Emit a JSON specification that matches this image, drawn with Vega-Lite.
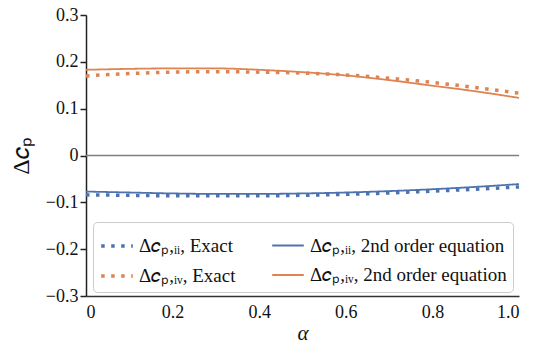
{
  "$schema": "https://vega.github.io/schema/vega-lite/v6.json",
  "autosize": {"type": "none"},
  "width": 433,
  "height": 281,
  "padding": {"left": 86, "top": 15, "right": 27, "bottom": 52},
  "background": "white",
  "config": {
    "view": {"stroke": null},
    "font": "'Liberation Serif', 'Times New Roman', serif",
    "axis": {"labelFont": "'Liberation Serif', 'Times New Roman', serif", "titleFont": "'Liberation Serif', 'Times New Roman', serif", "grid": false},
    "legend": {"labelFont": "'Liberation Serif', 'Times New Roman', serif"}
  },
  "datasets": {
    "curves": [
      {"alpha": 0.0, "dcp": -0.084, "series": "Δ𝑐ₚ,ᵢᵢ, Exact"},
      {"alpha": 0.1, "dcp": -0.085, "series": "Δ𝑐ₚ,ᵢᵢ, Exact"},
      {"alpha": 0.2, "dcp": -0.086, "series": "Δ𝑐ₚ,ᵢᵢ, Exact"},
      {"alpha": 0.3, "dcp": -0.086, "series": "Δ𝑐ₚ,ᵢᵢ, Exact"},
      {"alpha": 0.4, "dcp": -0.086, "series": "Δ𝑐ₚ,ᵢᵢ, Exact"},
      {"alpha": 0.5, "dcp": -0.085, "series": "Δ𝑐ₚ,ᵢᵢ, Exact"},
      {"alpha": 0.6, "dcp": -0.083, "series": "Δ𝑐ₚ,ᵢᵢ, Exact"},
      {"alpha": 0.7, "dcp": -0.080, "series": "Δ𝑐ₚ,ᵢᵢ, Exact"},
      {"alpha": 0.8, "dcp": -0.076, "series": "Δ𝑐ₚ,ᵢᵢ, Exact"},
      {"alpha": 0.9, "dcp": -0.072, "series": "Δ𝑐ₚ,ᵢᵢ, Exact"},
      {"alpha": 1.0, "dcp": -0.067, "series": "Δ𝑐ₚ,ᵢᵢ, Exact"},
      {"alpha": 0.0, "dcp": -0.077, "series": "Δ𝑐ₚ,ᵢᵢ, 2nd order equation"},
      {"alpha": 0.1, "dcp": -0.079, "series": "Δ𝑐ₚ,ᵢᵢ, 2nd order equation"},
      {"alpha": 0.2, "dcp": -0.081, "series": "Δ𝑐ₚ,ᵢᵢ, 2nd order equation"},
      {"alpha": 0.3, "dcp": -0.082, "series": "Δ𝑐ₚ,ᵢᵢ, 2nd order equation"},
      {"alpha": 0.4, "dcp": -0.082, "series": "Δ𝑐ₚ,ᵢᵢ, 2nd order equation"},
      {"alpha": 0.5, "dcp": -0.081, "series": "Δ𝑐ₚ,ᵢᵢ, 2nd order equation"},
      {"alpha": 0.6, "dcp": -0.079, "series": "Δ𝑐ₚ,ᵢᵢ, 2nd order equation"},
      {"alpha": 0.7, "dcp": -0.076, "series": "Δ𝑐ₚ,ᵢᵢ, 2nd order equation"},
      {"alpha": 0.8, "dcp": -0.072, "series": "Δ𝑐ₚ,ᵢᵢ, 2nd order equation"},
      {"alpha": 0.9, "dcp": -0.067, "series": "Δ𝑐ₚ,ᵢᵢ, 2nd order equation"},
      {"alpha": 1.0, "dcp": -0.061, "series": "Δ𝑐ₚ,ᵢᵢ, 2nd order equation"},
      {"alpha": 0.0, "dcp": 0.170, "series": "Δ𝑐ₚ,ᵢᵥ, Exact"},
      {"alpha": 0.1, "dcp": 0.175, "series": "Δ𝑐ₚ,ᵢᵥ, Exact"},
      {"alpha": 0.2, "dcp": 0.178, "series": "Δ𝑐ₚ,ᵢᵥ, Exact"},
      {"alpha": 0.3, "dcp": 0.179, "series": "Δ𝑐ₚ,ᵢᵥ, Exact"},
      {"alpha": 0.4, "dcp": 0.178, "series": "Δ𝑐ₚ,ᵢᵥ, Exact"},
      {"alpha": 0.5, "dcp": 0.176, "series": "Δ𝑐ₚ,ᵢᵥ, Exact"},
      {"alpha": 0.6, "dcp": 0.172, "series": "Δ𝑐ₚ,ᵢᵥ, Exact"},
      {"alpha": 0.7, "dcp": 0.165, "series": "Δ𝑐ₚ,ᵢᵥ, Exact"},
      {"alpha": 0.8, "dcp": 0.156, "series": "Δ𝑐ₚ,ᵢᵥ, Exact"},
      {"alpha": 0.9, "dcp": 0.145, "series": "Δ𝑐ₚ,ᵢᵥ, Exact"},
      {"alpha": 1.0, "dcp": 0.133, "series": "Δ𝑐ₚ,ᵢᵥ, Exact"},
      {"alpha": 0.0, "dcp": 0.183, "series": "Δ𝑐ₚ,ᵢᵥ, 2nd order equation"},
      {"alpha": 0.1, "dcp": 0.185, "series": "Δ𝑐ₚ,ᵢᵥ, 2nd order equation"},
      {"alpha": 0.2, "dcp": 0.186, "series": "Δ𝑐ₚ,ᵢᵥ, 2nd order equation"},
      {"alpha": 0.3, "dcp": 0.186, "series": "Δ𝑐ₚ,ᵢᵥ, 2nd order equation"},
      {"alpha": 0.4, "dcp": 0.183, "series": "Δ𝑐ₚ,ᵢᵥ, 2nd order equation"},
      {"alpha": 0.5, "dcp": 0.178, "series": "Δ𝑐ₚ,ᵢᵥ, 2nd order equation"},
      {"alpha": 0.6, "dcp": 0.171, "series": "Δ𝑐ₚ,ᵢᵥ, 2nd order equation"},
      {"alpha": 0.7, "dcp": 0.161, "series": "Δ𝑐ₚ,ᵢᵥ, 2nd order equation"},
      {"alpha": 0.8, "dcp": 0.149, "series": "Δ𝑐ₚ,ᵢᵥ, 2nd order equation"},
      {"alpha": 0.9, "dcp": 0.137, "series": "Δ𝑐ₚ,ᵢᵥ, 2nd order equation"},
      {"alpha": 1.0, "dcp": 0.123, "series": "Δ𝑐ₚ,ᵢᵥ, 2nd order equation"}
    ],
    "zero": [{"y": 0}]
  },
  "layer": [
    {
      "data": {"name": "zero"},
      "mark": {"type": "rule", "color": "#808080", "strokeWidth": 1.5},
      "encoding": {"y": {"field": "y", "type": "quantitative", "scale": {"domain": [-0.3, 0.3]}}}
    },
    {
      "data": {"name": "curves"},
      "mark": {"type": "line", "interpolate": "monotone", "strokeCap": "butt"},
      "encoding": {
        "x": {
          "field": "alpha", "type": "quantitative",
          "scale": {"domain": [0, 1], "nice": false, "zero": false},
          "axis": {
            "values": [0, 0.2, 0.4, 0.6, 0.8, 1.0],
            "labelExpr": "datum.value == 0 ? '0' : format(datum.value, '.1f')",
            "ticks": false, "labelPadding": 7, "labelFontSize": 18, "labelColor": "#111",
            "labelFont": "'Liberation Serif', 'Times New Roman', serif",
            "domainColor": "#333", "domainWidth": 1.5,
            "title": "α", "titleFont": "'Liberation Serif', 'Times New Roman', serif", "titleFontSize": 21, "titleFontWeight": "normal", "titleFontStyle": "italic",
            "titlePadding": 1, "titleColor": "#111"
          }
        },
        "y": {
          "field": "dcp", "type": "quantitative",
          "scale": {"domain": [-0.3, 0.3], "nice": false},
          "axis": {
            "values": [-0.3, -0.2, -0.1, 0, 0.1, 0.2, 0.3],
            "labelExpr": "datum.value == 0 ? '0' : format(datum.value, '.1f')",
            "tickSize": 6, "tickColor": "#222", "tickWidth": 1.5, "labelPadding": 2, "labelFontSize": 18, "labelColor": "#111",
            "labelFont": "'Liberation Serif', 'Times New Roman', serif",
            "domainColor": "#222", "domainWidth": 1.5,
            "title": "Δ𝑐ₚ", "titleFont": "'Liberation Serif', 'Times New Roman', serif", "titleFontSize": 24, "titleFontWeight": "normal", "titlePadding": 12, "titleColor": "#111"
          }
        },
        "color": {
          "field": "series", "type": "nominal",
          "scale": {
            "domain": ["Δ𝑐ₚ,ᵢᵢ, Exact", "Δ𝑐ₚ,ᵢᵥ, Exact", "Δ𝑐ₚ,ᵢᵢ, 2nd order equation", "Δ𝑐ₚ,ᵢᵥ, 2nd order equation"],
            "range": ["#4C72B0", "#DD8452", "#4C72B0", "#DD8452"]
          },
          "legend": {
            "title": null, "orient": "none", "legendX": 7, "legendY": 207,
            "columns": 2, "columnPadding": 32, "rowPadding": 2,
            "fillColor": "white", "strokeColor": "#cccccc", "cornerRadius": 4, "padding": 6,
            "symbolType": "stroke", "symbolSize": 1000, "symbolStrokeWidth": 3,
            "labelFont": "'Liberation Serif', 'Times New Roman', serif", "labelFontSize": 19, "labelColor": "#111", "labelLimit": 400
          }
        },
        "strokeDash": {
          "field": "series", "type": "nominal",
          "scale": {
            "domain": ["Δ𝑐ₚ,ᵢᵢ, Exact", "Δ𝑐ₚ,ᵢᵥ, Exact", "Δ𝑐ₚ,ᵢᵢ, 2nd order equation", "Δ𝑐ₚ,ᵢᵥ, 2nd order equation"],
            "range": [[3.5, 6.5], [3.5, 6.5], [1, 0], [1, 0]]
          },
          "legend": null
        },
        "strokeWidth": {
          "field": "series", "type": "nominal",
          "scale": {
            "type": "ordinal",
            "domain": ["Δ𝑐ₚ,ᵢᵢ, Exact", "Δ𝑐ₚ,ᵢᵥ, Exact", "Δ𝑐ₚ,ᵢᵢ, 2nd order equation", "Δ𝑐ₚ,ᵢᵥ, 2nd order equation"],
            "range": [3.5, 3.5, 1.8, 1.8]
          },
          "legend": null
        }
      }
    }
  ]
}
